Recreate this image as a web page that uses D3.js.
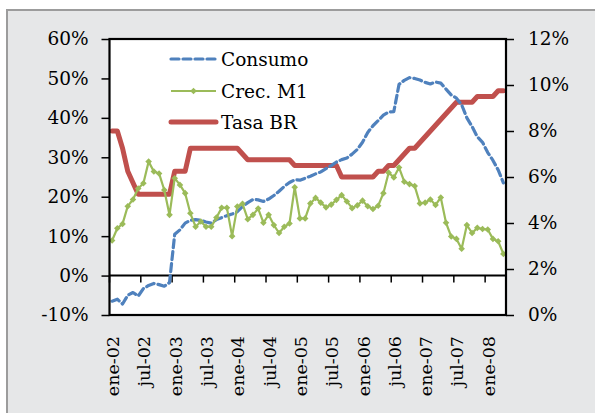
<!DOCTYPE html>
<html>
<head>
<meta charset="utf-8">
<script src="https://cdn.jsdelivr.net/npm/d3@7"></script>
<style>
  html, body { margin: 0; padding: 0; background: #ffffff; }
  svg { display: block; }
  text { font-family: "DejaVu Serif", "Liberation Serif", serif; fill: #000; }
</style>
</head>
<body>
<svg id="chart" width="595" height="413"></svg>
<script>
// ---- DATA ----
const categories = [
  "ene-02","feb-02","mar-02","abr-02","may-02","jun-02","jul-02","ago-02","sep-02","oct-02","nov-02","dic-02",
  "ene-03","feb-03","mar-03","abr-03","may-03","jun-03","jul-03","ago-03","sep-03","oct-03","nov-03","dic-03",
  "ene-04","feb-04","mar-04","abr-04","may-04","jun-04","jul-04","ago-04","sep-04","oct-04","nov-04","dic-04",
  "ene-05","feb-05","mar-05","abr-05","may-05","jun-05","jul-05","ago-05","sep-05","oct-05","nov-05","dic-05",
  "ene-06","feb-06","mar-06","abr-06","may-06","jun-06","jul-06","ago-06","sep-06","oct-06","nov-06","dic-06",
  "ene-07","feb-07","mar-07","abr-07","may-07","jun-07","jul-07","ago-07","sep-07","oct-07","nov-07","dic-07",
  "ene-08","feb-08","mar-08","abr-08"
];
const tickLabels = ["ene-02","jul-02","ene-03","jul-03","ene-04","jul-04","ene-05","jul-05","ene-06","jul-06","ene-07","jul-07","ene-08"];
const leftTicks = [-10, 0, 10, 20, 30, 40, 50, 60];
const rightTicks = [0, 2, 4, 6, 8, 10, 12];

// Consumo (% , left axis)
const consumo = [
  -6.5, -6.0, -7.2, -5.0, -4.3, -5.2, -3.3, -2.5, -2.0, -2.3, -2.7, -1.8,
  10.5, 11.6, 13.3, 14.0, 14.2, 14.0, 13.6, 13.3, 14.2, 14.7, 15.2, 15.6,
  16.2, 17.5, 18.5, 19.3, 19.2, 18.8, 19.4, 20.3, 21.4, 22.6, 23.6, 24.3,
  24.2, 24.7, 25.2, 25.8, 26.3, 27.1, 27.9, 28.8, 29.4, 29.8, 30.8, 32.0,
  33.8, 36.3, 38.0, 39.3, 40.7, 41.5, 41.6, 48.5, 49.5, 50.2, 50.0, 49.6,
  49.0, 48.6, 49.1, 48.8, 47.3, 45.8, 45.0, 43.3, 40.0, 37.8, 35.2, 33.8,
  31.2, 29.2, 26.8, 23.5
];
// Crec. M1 (%, left axis)
const crecM1 = [
  8.9, 12.0, 13.1, 17.6, 19.3, 22.1, 23.4, 28.9, 26.4, 25.9, 21.7, 15.4,
  24.7, 23.0, 20.9, 15.8, 12.4, 13.7, 12.4, 12.4, 14.7, 17.2, 17.2, 10.0,
  17.5, 18.2, 14.3, 15.4, 17.0, 13.4, 15.4, 12.8, 10.8, 12.4, 13.2, 22.4,
  14.5, 14.5, 18.3, 19.7, 18.5, 17.3, 18.0, 19.2, 20.4, 18.8, 17.1, 17.8,
  19.0, 17.6, 16.9, 17.7, 20.9, 26.1, 24.9, 27.4, 23.8, 23.2, 22.7, 18.3,
  18.5, 19.3, 17.9, 19.8, 13.4, 9.9, 9.3, 6.8, 12.8, 10.8, 12.1, 11.8,
  11.7, 9.3, 8.7, 5.5
];
// Tasa BR (%, right axis)
const tasaBR = [
  8.0, 8.0, 7.25, 6.25, 5.75, 5.25, 5.25, 5.25, 5.25, 5.25, 5.25, 5.25,
  6.25, 6.25, 6.25, 7.25, 7.25, 7.25, 7.25, 7.25, 7.25, 7.25, 7.25, 7.25,
  7.25, 7.0, 6.75, 6.75, 6.75, 6.75, 6.75, 6.75, 6.75, 6.75, 6.75, 6.5,
  6.5, 6.5, 6.5, 6.5, 6.5, 6.5, 6.5, 6.5, 6.0, 6.0, 6.0, 6.0,
  6.0, 6.0, 6.0, 6.25, 6.25, 6.5, 6.5, 6.75, 7.0, 7.25, 7.25, 7.5,
  7.75, 8.0, 8.25, 8.5, 8.75, 9.0, 9.25, 9.25, 9.25, 9.25, 9.5, 9.5,
  9.5, 9.5, 9.75, 9.75
];
const seriesNames = ["Consumo", "Crec. M1", "Tasa BR"];

// ---- LAYOUT ----
const svg = d3.select("#chart");
const plot = { left: 109.5, right: 506, top: 39, bottom: 315 };
const colors = { consumo: "#4F81BD", m1: "#9BBB59", br: "#C0504D" };

// frame
svg.append("rect").attr("x", 7).attr("y", 10).attr("width", 620).attr("height", 430)
  .attr("fill", "#e6e7e8").attr("stroke", "#9c9c9c").attr("stroke-width", 2);

const x = d3.scaleBand().domain(categories).range([plot.left, plot.right]).padding(0);
const cx = d => x(d) + x.bandwidth() / 2;
const yL = d3.scaleLinear().domain([-10, 60]).range([plot.bottom, plot.top]);
const yR = d3.scaleLinear().domain([0, 12]).range([plot.bottom, plot.top]);

// plot area
svg.append("rect").attr("x", plot.left).attr("y", plot.top)
  .attr("width", plot.right - plot.left).attr("height", plot.bottom - plot.top)
  .attr("fill", "#ffffff");

// left axis
const gL = svg.append("g").attr("transform", `translate(${plot.left},0)`)
  .call(d3.axisLeft(yL).tickValues(leftTicks).tickFormat(d => d + "%").tickSize(8).tickPadding(13));
gL.select(".domain").remove();
gL.selectAll(".tick line").attr("stroke", "#000").attr("stroke-width", 1.5);
gL.selectAll(".tick text").attr("font-size", "18.5px").attr("fill", "#000")
  .attr("font-family", "DejaVu Serif");

// right axis
const gR = svg.append("g").attr("transform", `translate(${plot.right},0)`)
  .call(d3.axisRight(yR).tickValues(rightTicks).tickFormat(d => d + "%").tickSize(8).tickPadding(14));
gR.select(".domain").remove();
gR.selectAll(".tick line").attr("stroke", "#000").attr("stroke-width", 1.5);
gR.selectAll(".tick text").attr("font-size", "18.5px").attr("fill", "#000")
  .attr("font-family", "DejaVu Serif");

// zero line with category ticks
const y0 = yL(0);
const gX = svg.append("g").attr("transform", `translate(0,${y0})`)
  .call(d3.axisBottom(x)
    .tickValues(categories.filter((c, i) => i % 6 === 0))
    .tickSize(7).tickFormat(""));
gX.select(".domain").attr("stroke", "#000").attr("stroke-width", 2)
  .attr("d", `M${plot.left},0H${plot.right}`);
gX.selectAll(".tick line").attr("stroke", "#000").attr("stroke-width", 1.5)
  .attr("transform", function() { return `translate(${-x.bandwidth() / 2},0)`; });

// category labels (bottom, rotated)
svg.append("g").selectAll("text").data(tickLabels).join("text")
  .attr("transform", d => `translate(${cx(d) + 1},336) rotate(-90)`)
  .attr("text-anchor", "end")
  .attr("dominant-baseline", "central")
  .attr("font-size", "17.5px")
  .text(d => d);

// series
const lineL = d3.line().x((d, i) => cx(categories[i])).y(d => yL(d));
const lineR = d3.line().x((d, i) => cx(categories[i])).y(d => yR(d));

svg.append("path").datum(tasaBR).attr("d", lineR)
  .attr("fill", "none").attr("stroke", colors.br).attr("stroke-width", 5)
  .attr("stroke-linejoin", "round").attr("stroke-linecap", "round");

svg.append("path").datum(consumo).attr("d", lineL)
  .attr("fill", "none").attr("stroke", colors.consumo).attr("stroke-width", 3.2)
  .attr("stroke-dasharray", "8,4").attr("stroke-linecap", "round").attr("stroke-linejoin", "round");

svg.append("path").datum(crecM1).attr("d", lineL)
  .attr("fill", "none").attr("stroke", colors.m1).attr("stroke-width", 2.2)
  .attr("stroke-linejoin", "round");

const diamond = r => `M0,${-r}L${r},0L0,${r}L${-r},0Z`;
svg.append("g").selectAll("path").data(crecM1).join("path")
  .attr("transform", (d, i) => `translate(${cx(categories[i])},${yL(d)})`)
  .attr("d", diamond(3.3)).attr("fill", colors.m1);

// plot border
svg.append("rect").attr("x", plot.left).attr("y", plot.top)
  .attr("width", plot.right - plot.left).attr("height", plot.bottom - plot.top)
  .attr("fill", "none").attr("stroke", "#000").attr("stroke-width", 2.2);

// legend
const legend = svg.append("g");
const legY = [59, 91, 122];
const legX0 = 171, legX1 = 216;
legend.append("line").attr("x1", legX0).attr("x2", legX1).attr("y1", legY[0]).attr("y2", legY[0])
  .attr("stroke", colors.consumo).attr("stroke-width", 3.2).attr("stroke-dasharray", "8,4").attr("stroke-linecap", "round");
legend.append("line").attr("x1", legX0).attr("x2", legX1).attr("y1", legY[1]).attr("y2", legY[1])
  .attr("stroke", colors.m1).attr("stroke-width", 2.2);
legend.append("path").attr("transform", `translate(${(legX0 + legX1) / 2},${legY[1]})`)
  .attr("d", diamond(3.3)).attr("fill", colors.m1);
legend.append("line").attr("x1", legX0).attr("x2", legX1).attr("y1", legY[2]).attr("y2", legY[2])
  .attr("stroke", colors.br).attr("stroke-width", 5).attr("stroke-linecap", "round");
legend.selectAll("text.lt").data(seriesNames).join("text")
  .attr("class", "lt")
  .attr("x", 221).attr("y", (d, i) => legY[i])
  .attr("dominant-baseline", "central")
  .attr("font-size", "18.5px")
  .text(d => d);
</script>
</body>
</html>
